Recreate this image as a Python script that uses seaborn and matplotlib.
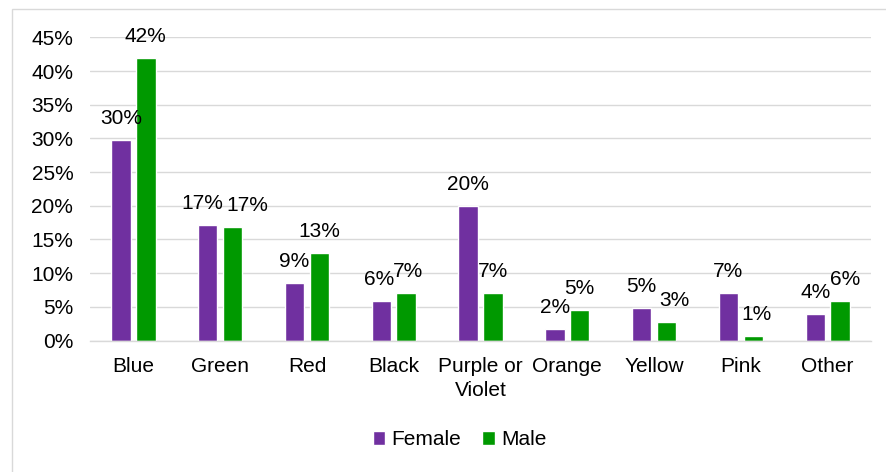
import matplotlib
matplotlib.use("Agg")
import matplotlib.pyplot as plt
from matplotlib.patches import Rectangle
from matplotlib.ticker import PercentFormatter
import seaborn as sns
import pandas as pd

# datos (fraccion)
colors = ["Blue", "Green", "Red", "Black", "Purple or\nViolet", "Orange", "Yellow", "Pink", "Other"]
female = [0.298, 0.171, 0.086, 0.058, 0.200, 0.017, 0.048, 0.071, 0.039]
male = [0.420, 0.168, 0.130, 0.070, 0.070, 0.046, 0.028, 0.006, 0.059]
genders = ["Female", "Male"]

df = pd.DataFrame({
    "color": colors * 2,
    "gender": ["Female"] * len(colors) + ["Male"] * len(colors),
    "share": female + male,
})

sns.set_style("white")
plt.rcParams["font.family"] = ["Liberation Sans", "DejaVu Sans"]
plt.rcParams["text.color"] = "black"
plt.rcParams["xtick.color"] = "black"
plt.rcParams["ytick.color"] = "black"
FS = 15

fig = plt.figure(figsize=(8.87, 4.72), dpi=100)
ax = fig.add_axes([0.1015, 0.2786, 0.8805, 0.6420])

palette = {"Female": "#7030a0", "Male": "#009900"}
sns.barplot(data=df, x="color", y="share", hue="gender", hue_order=genders,
            palette=palette, width=0.572, gap=0.22, saturation=1,
            ax=ax, legend=True)

ax.set_ylim(0, 0.45)
ax.set_yticks([i * 0.05 for i in range(10)])
ax.yaxis.set_major_formatter(PercentFormatter(1.0, decimals=0))
ax.set_xlim(-0.5, len(colors) - 0.5)
ax.grid(axis="y", color="#d9d9d9", linewidth=1.0)
ax.set_axisbelow(True)
for s in ["top", "right", "left"]:
    ax.spines[s].set_visible(False)
ax.spines["bottom"].set_color("#d9d9d9")
ax.spines["bottom"].set_linewidth(1.0)
ax.tick_params(axis="both", length=0, labelsize=FS)
ax.tick_params(axis="y", pad=12)
ax.tick_params(axis="x", pad=12)
for lab in ax.get_xticklabels():
    lab.set_linespacing(1.3)
ax.set_xlabel("")
ax.set_ylabel("")

# etiquetas de datos (algunas desplazadas como en el original)
nudge = {("Male", 1): 10.5, ("Female", 1): -4, ("Female", 3): -1.5,
         ("Male", 3): 1.5, ("Male", 6): 5.4, ("Male", 7): 2, ("Male", 8): 3.6}
for gender, cont in zip(genders, ax.containers):
    for i, bar in enumerate(cont):
        val = bar.get_height()
        ax.annotate(f"{val * 100:.0f}%",
                    (bar.get_x() + bar.get_width() / 2, val),
                    xytext=(nudge.get((gender, i), 0), 11.5),
                    textcoords="offset points", ha="center", va="baseline",
                    fontsize=FS)

leg = ax.get_legend()
handles = leg.legend_handles
leg.remove()
fig.legend(handles, genders, loc="center", bbox_to_anchor=(0.518, 0.068),
           ncol=2, frameon=False, fontsize=FS, handlelength=0.6,
           handleheight=0.6, handletextpad=0.3, columnspacing=1.0)

# borde del area del grafico
fig.patches.append(Rectangle((12 / 887, -0.2), 1.2, 1.2 - 9 / 472,
                             transform=fig.transFigure, fill=False,
                             edgecolor="#d9d9d9", linewidth=1.0))

fig.savefig("out.png", dpi=100)
